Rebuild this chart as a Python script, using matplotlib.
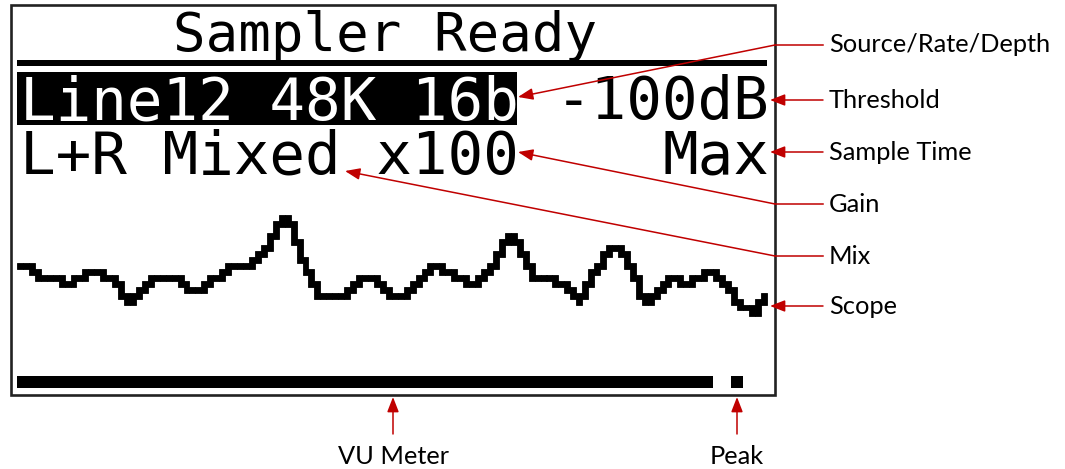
import numpy as np
import matplotlib.pyplot as plt
from matplotlib.patches import Rectangle

# text shown on the 128x64 OLED
title = "Sampler Ready"
row1_left = "Line12 48K 16b"
row1_right = "-100dB"
row2_left = "L+R Mixed x100"
row2_right = "Max"

# scope trace: display row of the sample in each column, columns 1..126
scope_rows = [43, 43, 43, 44, 45, 45, 45, 45, 46, 46,
              45, 45, 44, 44, 44, 45, 45, 47, 48, 49,
              48, 47, 46, 45, 45, 45, 45, 45, 46, 47,
              47, 47, 46, 45, 45, 44, 43, 43, 43, 43,
              42, 41, 39, 37, 35, 35, 37, 40, 43, 45,
              47, 48, 48, 48, 48, 48, 47, 46, 45, 45,
              45, 46, 47, 48, 48, 48, 47, 46, 45, 43,
              43, 43, 44, 44, 45, 45, 46, 46, 45, 44,
              42, 40, 38, 38, 40, 42, 44, 45, 45, 45,
              45, 46, 46, 47, 49, 47, 45, 44, 42, 41,
              40, 40, 42, 44, 46, 49, 49, 48, 47, 46,
              45, 45, 46, 46, 45, 45, 44, 44, 45, 46,
              48, 50, 50, 50, 51, 48]
scope_first_col = 1

vu_level = 117   # lit columns of the VU bar
vu_peak = 121    # peak hold column

side_labels = ["Source/Rate/Depth", "Threshold", "Sample Time", "Gain", "Mix", "Scope"]
bottom_labels = ["VU Meter", "Peak"]

RED = "#C00000"
MONO = "DejaVu Sans Mono"

fig = plt.figure(figsize=(10.65, 4.69), dpi=100)
W, H = 1065, 469

# screen area in image pixels
sx0, sy0, sw, sh = 11, 6, 128 * 5.95, 64 * 5.97
oled = fig.add_axes([sx0 / W, 1 - (sy0 + sh) / H, sw / W, sh / H])
oled.set_xlim(0, 128)
oled.set_ylim(64, 0)
oled.axis("off")

fs = 6 * 5.95 / 0.602 * 72 / 100

oled.text(62.9, 7.6, title, family=MONO, fontsize=39, ha="center", va="baseline")
oled.add_patch(Rectangle((1, 9), 126, 1, color="black", lw=0))
oled.add_patch(Rectangle((1, 11), 84, 9, color="black", lw=0))
oled.text(1.5, 19, row1_left, family=MONO, fontsize=fs, color="white", va="baseline")
oled.text(127.5, 19, row1_right, family=MONO, fontsize=fs, ha="right", va="baseline")
oled.text(1.5, 28, row2_left, family=MONO, fontsize=fs, va="baseline")
oled.text(127.5, 28, row2_right, family=MONO, fontsize=fs, ha="right", va="baseline")

# scope: each column lit from its sample toward its neighbours
rows = np.array(scope_rows)
cols = np.arange(len(rows)) + scope_first_col
lo = rows.copy()
hi = rows.copy()
for i in range(len(rows)):
    if i + 1 < len(rows):
        d = rows[i + 1] - rows[i]
        ext = int(np.ceil(abs(d) / 2))
        if d > 0:
            hi[i] = max(hi[i], rows[i] + ext)
        elif d < 0:
            lo[i] = min(lo[i], rows[i] - ext)
    if i > 0:
        d = rows[i - 1] - rows[i]
        ext = abs(d) // 2
        if d > 0:
            hi[i] = max(hi[i], rows[i] + ext)
        elif d < 0:
            lo[i] = min(lo[i], rows[i] - ext)
oled.bar(cols, hi - lo + 1, bottom=lo, width=1.0, align="edge",
         color="black", edgecolor="black", linewidth=0.6)

# VU meter and peak
oled.barh(62, vu_level, left=1, height=2, align="edge", color="black", lw=0)
oled.barh(62, 2, left=vu_peak, height=2, align="edge", color="black", lw=0)

# annotation layer in image pixels
ax = fig.add_axes([0, 0, 1, 1])
ax.set_xlim(0, W)
ax.set_ylim(H, 0)
ax.axis("off")
ax.add_patch(Rectangle((10.5, 5), 764, 390, fill=False, ec="#222222", lw=1.9))

arrow = dict(arrowstyle="-|>,head_length=0.9,head_width=0.35", color=RED,
             lw=1.1, mutation_scale=10, shrinkA=0, shrinkB=0)

label_y = [45, 100, 152, 204, 256, 306]
tips = [(518, 97), (770, 100), (770, 152), (518, 152), (345, 171), (770, 306)]
for name, y, tip in zip(side_labels, label_y, tips):
    ax.text(829, y, name, family="Lato", fontsize=18.3, va="center", ha="left")
    if tip[1] == y:
        ax.annotate("", xy=tip, xytext=(823, y), arrowprops=arrow)
    else:
        ax.plot([823, 775], [y, y], color=RED, lw=1.1)
        ax.annotate("", xy=tip, xytext=(775, y), arrowprops=arrow)

for name, x in zip(bottom_labels, [393, 737]):
    ax.annotate("", xy=(x, 397), xytext=(x, 434), arrowprops=arrow)
    ax.text(x, 457, name, family="Lato", fontsize=18.3, va="center", ha="center")

fig.savefig("out.png", dpi=100)
